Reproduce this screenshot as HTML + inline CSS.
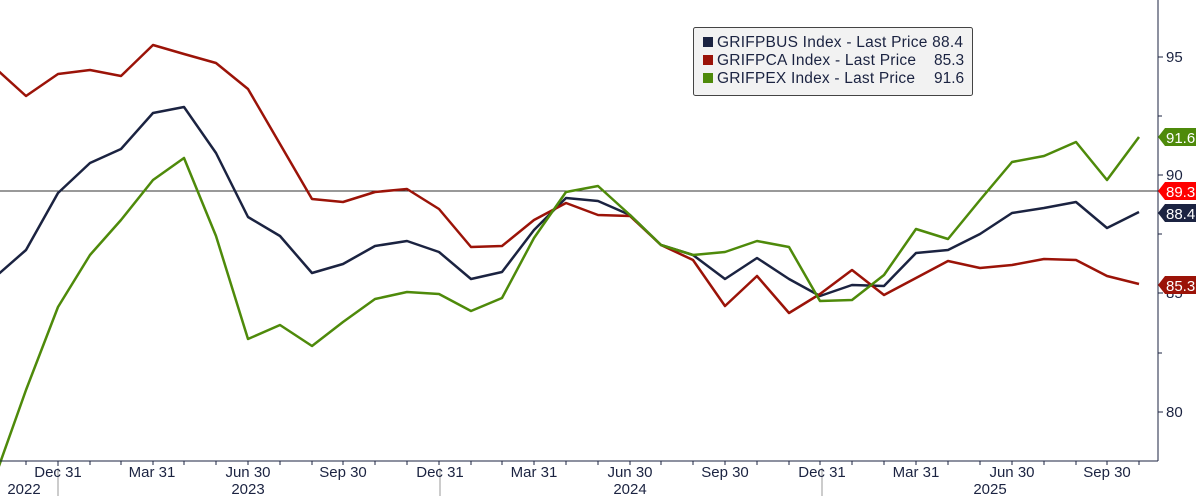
<!DOCTYPE html>
<html><head><style>body{margin:0;background:#fff}svg{display:block;font-family:"Liberation Sans",sans-serif}</style></head><body>
<svg width="1196" height="496" viewBox="0 0 1196 496">
<rect width="1196" height="496" fill="#fff"/>
<line x1="0" y1="191" x2="1158" y2="191" stroke="#333" stroke-width="1"/>
<g fill="none" stroke-width="2.5" stroke-linejoin="round">
<polyline stroke="#1b2341" points="-6,278 26,250 58,193 90,163 121,149 153,113 184,107 216,153 248,217 280,236 312,273 343,264 375,246 407,241 439,252 471,279 502,272 534,230 566,198 598,201 630,215 661,245 693,255 725,279 757,258 789,279 820,296 852,285 884,286 916,253 948,250 980,234 1012,213 1044,208 1076,202 1107,228 1139,212"/>
<polyline stroke="#9b1308" points="-6,67 26,96 58,74 90,70 121,76 153,45 184,54 216,63 248,89 280,144 312,199 343,202 375,192 407,189 439,209 471,247 502,246 534,220 566,203 598,215 630,216 661,245 693,260 725,306 757,276 789,313 820,294 852,270 884,295 916,278 948,261 980,268 1012,265 1044,259 1076,260 1107,276 1139,284"/>
<polyline stroke="#4e8a0a" points="-6,480 26,390 58,307 90,255 121,220 153,180 184,158 216,236 248,339 280,325 312,346 343,322 375,299 407,292 439,294 471,311 502,298 534,238 566,192 598,186 630,215 661,245 693,255 725,252 757,241 789,247 820,301 852,300 884,275 916,229 948,239 980,200 1012,162 1044,156 1076,142 1107,180 1139,137"/>
</g>
<line x1="0" y1="461" x2="1158" y2="461" stroke="#1b2341"/>
<line x1="1158" y1="0" x2="1158" y2="461" stroke="#1b2341"/>
<g stroke="#1b2341">
<line x1="26" y1="461" x2="26" y2="465"/><line x1="58" y1="461" x2="58" y2="466"/><line x1="90" y1="461" x2="90" y2="465"/><line x1="121" y1="461" x2="121" y2="465"/><line x1="153" y1="461" x2="153" y2="465"/><line x1="184" y1="461" x2="184" y2="465"/><line x1="216" y1="461" x2="216" y2="465"/><line x1="248" y1="461" x2="248" y2="465"/><line x1="280" y1="461" x2="280" y2="465"/><line x1="312" y1="461" x2="312" y2="465"/><line x1="343" y1="461" x2="343" y2="465"/><line x1="375" y1="461" x2="375" y2="465"/><line x1="407" y1="461" x2="407" y2="465"/><line x1="439" y1="461" x2="439" y2="465"/><line x1="471" y1="461" x2="471" y2="465"/><line x1="502" y1="461" x2="502" y2="465"/><line x1="534" y1="461" x2="534" y2="465"/><line x1="566" y1="461" x2="566" y2="465"/><line x1="598" y1="461" x2="598" y2="465"/><line x1="630" y1="461" x2="630" y2="465"/><line x1="661" y1="461" x2="661" y2="465"/><line x1="693" y1="461" x2="693" y2="465"/><line x1="725" y1="461" x2="725" y2="465"/><line x1="757" y1="461" x2="757" y2="465"/><line x1="789" y1="461" x2="789" y2="465"/><line x1="820" y1="461" x2="820" y2="465"/><line x1="852" y1="461" x2="852" y2="465"/><line x1="884" y1="461" x2="884" y2="465"/><line x1="916" y1="461" x2="916" y2="465"/><line x1="948" y1="461" x2="948" y2="465"/><line x1="980" y1="461" x2="980" y2="465"/><line x1="1012" y1="461" x2="1012" y2="465"/><line x1="1044" y1="461" x2="1044" y2="465"/><line x1="1076" y1="461" x2="1076" y2="465"/><line x1="1107" y1="461" x2="1107" y2="465"/><line x1="1139" y1="461" x2="1139" y2="465"/>
<line x1="1158" y1="57" x2="1163" y2="57"/><line x1="1158" y1="116" x2="1162" y2="116"/><line x1="1158" y1="175" x2="1163" y2="175"/><line x1="1158" y1="234" x2="1162" y2="234"/><line x1="1158" y1="293" x2="1163" y2="293"/><line x1="1158" y1="353" x2="1162" y2="353"/><line x1="1158" y1="412" x2="1163" y2="412"/>
</g>
<g stroke="#999"><line x1="58" y1="468" x2="58" y2="496"/><line x1="440" y1="468" x2="440" y2="496"/><line x1="822" y1="468" x2="822" y2="496"/></g>
<g font-size="15" fill="#1b2341" text-anchor="middle">
<text x="58" y="477">Dec 31</text><text x="152" y="477">Mar 31</text><text x="248" y="477">Jun 30</text><text x="343" y="477">Sep 30</text><text x="440" y="477">Dec 31</text><text x="534" y="477">Mar 31</text><text x="630" y="477">Jun 30</text><text x="725" y="477">Sep 30</text><text x="822" y="477">Dec 31</text><text x="916" y="477">Mar 31</text><text x="1012" y="477">Jun 30</text><text x="1107" y="477">Sep 30</text>
<text x="24" y="494">2022</text><text x="248" y="494">2023</text><text x="630" y="494">2024</text><text x="990" y="494">2025</text>
</g>
<g font-size="15" fill="#1b2341"><text x="1166" y="62">95</text><text x="1166" y="180">90</text><text x="1166" y="298">85</text><text x="1166" y="417">80</text></g>
<g font-size="15">
<polygon points="1158,137 1165,128 1196,128 1196,146 1165,146" fill="#4e8a0a"/><text x="1166" y="143" fill="#fff">91.6</text>
<polygon points="1158,191 1165,182 1196,182 1196,200 1165,200" fill="#f00"/><text x="1166" y="197" fill="#fff">89.3</text>
<polygon points="1158,213 1165,204 1196,204 1196,222 1165,222" fill="#1b2341"/><text x="1166" y="219" fill="#fff">88.4</text>
<polygon points="1158,285 1165,276 1196,276 1196,294 1165,294" fill="#9b1308"/><text x="1166" y="291" fill="#fff">85.3</text>
</g>
<rect x="693.5" y="27.5" width="279" height="68" rx="2" fill="#f2f2f2" stroke="#444"/>
<rect x="703" y="37" width="10" height="10" fill="#1b2341"/><rect x="703" y="55" width="10" height="10" fill="#9b1308"/><rect x="703" y="73" width="10" height="10" fill="#4e8a0a"/>
<g font-size="15.5" fill="#1b2341"><text x="717" y="47" textLength="246">GRIFPBUS Index - Last Price 88.4</text><text x="717" y="65" textLength="199">GRIFPCA Index - Last Price</text><text x="717" y="83" textLength="198">GRIFPEX Index - Last Price</text><text x="934" y="65">85.3</text><text x="934" y="83">91.6</text></g>
</svg>
</body></html>
